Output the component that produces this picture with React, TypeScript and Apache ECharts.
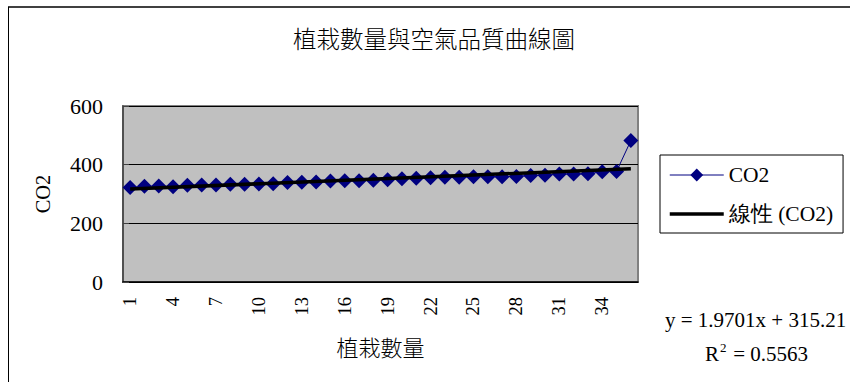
import React, { useEffect, useRef } from 'react';
import * as echarts from 'echarts';

const FONT = 'Liberation Serif';
const CJK = 'Noto Sans CJK TC';

const chartTitle = '植栽數量與空氣品質曲線圖';
const xAxisName = '植栽數量';
const yAxisName = 'CO2';

const categories = [
  '1', '2', '3', '4', '5', '6', '7', '8', '9', '10', '11', '12',
  '13', '14', '15', '16', '17', '18', '19', '20', '21', '22', '23', '24',
  '25', '26', '27', '28', '29', '30', '31', '32', '33', '34', '35', '36',
];

const co2Values = [
  322, 326, 327, 325, 330, 331, 331, 333, 333, 334, 335, 339,
  340, 341, 344, 345, 345, 347, 349, 352, 354, 355, 357, 357,
  359, 359, 359, 360, 363, 364, 368, 368, 369, 376, 377, 482,
];

// Linear trend read from the equation shown: values at the first and last category
const trendStart = 317.2;
const trendEnd = 386.1;

const equationText = 'y = 1.9701x + 315.21';
const r2Value = '0.5563';

export default function App() {
  const ref = useRef<HTMLDivElement>(null);

  useEffect(() => {
    document.body.style.margin = '0';
    if (!ref.current) return;
    const chart = echarts.init(ref.current, null, { renderer: 'svg' });
    chart.setOption({
      animation: false,
      backgroundColor: '#ffffff',
      textStyle: { fontFamily: FONT, color: '#000' },
      title: {
        text: chartTitle,
        left: 293,
        top: 26,
        padding: 0,
        textStyle: { fontSize: 23.5, fontWeight: 300, color: '#000', fontFamily: CJK },
      },
      grid: {
        left: 123, top: 106, width: 515, height: 176,
        show: true, backgroundColor: '#C0C0C0', borderColor: '#808080', borderWidth: 2,
      },
      legend: {
        orient: 'vertical', left: 660, top: 155, padding: [9, 10, 8, 8],
        itemWidth: 54, itemHeight: 16, itemGap: 17,
        borderColor: '#000', borderWidth: 1, backgroundColor: '#fff',
        textStyle: { fontSize: 21.5, color: '#000', fontFamily: FONT },
        data: [
          { name: 'CO2', lineStyle: { width: 1, color: '#000080' } },
          { name: '線性 (CO2)', itemStyle: { opacity: 0 }, lineStyle: { width: 3.5, color: '#000' } },
        ],
      },
      xAxis: {
        type: 'category', data: categories, boundaryGap: true,
        name: xAxisName, nameLocation: 'middle', nameGap: 53,
        nameTextStyle: { fontSize: 22, color: '#000', fontFamily: CJK, fontWeight: 300 },
        axisLine: { lineStyle: { color: '#000', width: 1.5 } },
        axisTick: { inside: true, length: 6, interval: 0, lineStyle: { color: '#000' } },
        axisLabel: { interval: 2, rotate: 90, margin: 15, fontSize: 18.5, color: '#000', fontFamily: FONT },
      },
      yAxis: {
        type: 'value', min: 0, max: 600, interval: 200,
        name: yAxisName, nameLocation: 'middle', nameGap: 70, nameRotate: 90,
        nameTextStyle: { fontSize: 20.5, color: '#000', fontFamily: FONT },
        axisLine: { show: true, lineStyle: { color: '#404040', width: 1.5 } },
        axisTick: { show: true, inside: true, length: 6, lineStyle: { color: '#404040' } },
        axisLabel: { margin: 20, fontSize: 22, color: '#000', fontFamily: FONT },
        splitLine: { show: true, lineStyle: { color: '#000', width: 1 } },
      },
      series: [
        {
          name: 'CO2', type: 'line', data: co2Values,
          symbol: 'diamond', symbolSize: [15, 15], showSymbol: true, showAllSymbol: true,
          lineStyle: { color: '#000080', width: 1 }, itemStyle: { color: '#000080' }, z: 2,
        },
        {
          name: '線性 (CO2)', type: 'line',
          data: [[0, trendStart], [categories.length - 1, trendEnd]],
          symbol: 'none', lineStyle: { color: '#000', width: 3.5 }, itemStyle: { color: '#000' }, z: 4,
        },
      ],
      graphic: [
        { type: 'line', shape: { x1: 8, y1: 7, x2: 850, y2: 7 }, style: { stroke: '#404040', lineWidth: 2 } },
        { type: 'line', shape: { x1: 8.5, y1: 7, x2: 8.5, y2: 382 }, style: { stroke: '#000', lineWidth: 1 } },
        { type: 'text', left: 665, top: 309, style: { text: equationText, fontSize: 21, fontFamily: FONT, fill: '#000' } },
        { type: 'text', left: 705, top: 343, style: { text: 'R', fontSize: 21, fontFamily: FONT, fill: '#000' } },
        { type: 'text', left: 720, top: 341, style: { text: '2', fontSize: 13, fontFamily: FONT, fill: '#000' } },
        { type: 'text', left: 728, top: 343, style: { text: ' = ' + r2Value, fontSize: 21, fontFamily: FONT, fill: '#000' } },
      ],
    });
    return () => chart.dispose();
  }, []);

  return <div ref={ref} style={{ width: 850, height: 382 }} />;
}
